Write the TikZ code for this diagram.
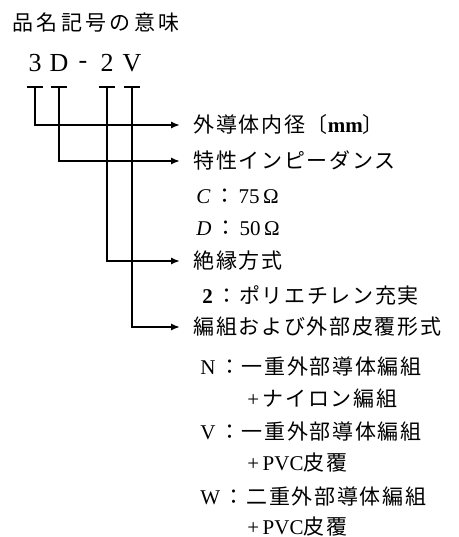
\documentclass[tikz,border=0pt]{standalone}
\usepackage{fontspec}
\setmainfont{Liberation Serif}
\newfontfamily\jp{Noto Sans CJK JP}[LetterSpace=8]
\usetikzlibrary{arrows.meta}

\begin{document}
\begin{tikzpicture}[
  x=0.5pt, y=-0.5pt,
  font=\fontsize{10.5}{12}\selectfont,
  lbl/.style={anchor=west, inner sep=0pt, text height=0.88em, text depth=0.12em},
  code/.style={inner sep=0pt, font=\fontsize{13}{15}\selectfont},
  bar/.style={line width=0.9pt},
  arr/.style={line width=0.9pt, -{Latex[length=4.5pt,width=3.6pt]}, shorten >=6.5pt}
]
\useasboundingbox (0,0) rectangle (459,537);
\node[lbl] (title) at (12,23) {\jp\addfontfeature{LetterSpace=16}品名記号の意味};
% code
\node[code] (c3) at (35,63) {3};
\node[code] (cD) at (59,63) {D};
\node[code] (cdash) at (83,65) {-};
\node[code] (c2) at (107,63) {2};
\node[code] (cV) at (132,63) {V};
\coordinate (t1) at (35,87);
\coordinate (t2) at (59,87);
\coordinate (t3) at (107,87);
\coordinate (t4) at (132,87);
\foreach \t in {t1,t2,t3,t4}
  \draw[bar] (\t) ++(-8,0) -- ++(16,0);
% meanings
\node[lbl] (dia) at (193,125) {{\jp 外導体内径〔}{\bfseries mm}{\jp 〕}};
\node[lbl] (imp) at (193,161) {\jp 特性インピーダンス};
\node[lbl] (zc) at (196,196) {\textit{C}\,{\jp ：}\,75\,Ω};
\node[lbl] (zd) at (196,228) {\textit{D}\,{\jp ：}\,50\,Ω};
\node[lbl] (ins) at (193,261) {\jp 絶縁方式};
\node[lbl] (pe) at (202,296) {\textbf{2}\,{\jp ：ポリエチレン充実}};
\node[lbl] (braid) at (193,327) {\jp 編組および外部皮覆形式};
\node[lbl] (bn) at (200,367) {N\,{\jp ：一重外部導体編組}};
\node[lbl] (bn2) at (247,399) {+\,{\jp ナイロン編組}};
\node[lbl] (bv) at (200,432) {V\,{\jp ：一重外部導体編組}};
\node[lbl] (bv2) at (247,463) {+\,PVC{\jp 皮覆}};
\node[lbl] (bw) at (200,497) {W\,{\jp ：二重外部導体編組}};
\node[lbl] (bw2) at (247,527) {+\,PVC{\jp 皮覆}};
\draw[arr] (t1) |- (dia.west);
\draw[arr] (t2) |- (imp.west);
\draw[arr] (t3) |- (ins.west);
\draw[arr] (t4) |- (braid.west);
\end{tikzpicture}
\end{document}
